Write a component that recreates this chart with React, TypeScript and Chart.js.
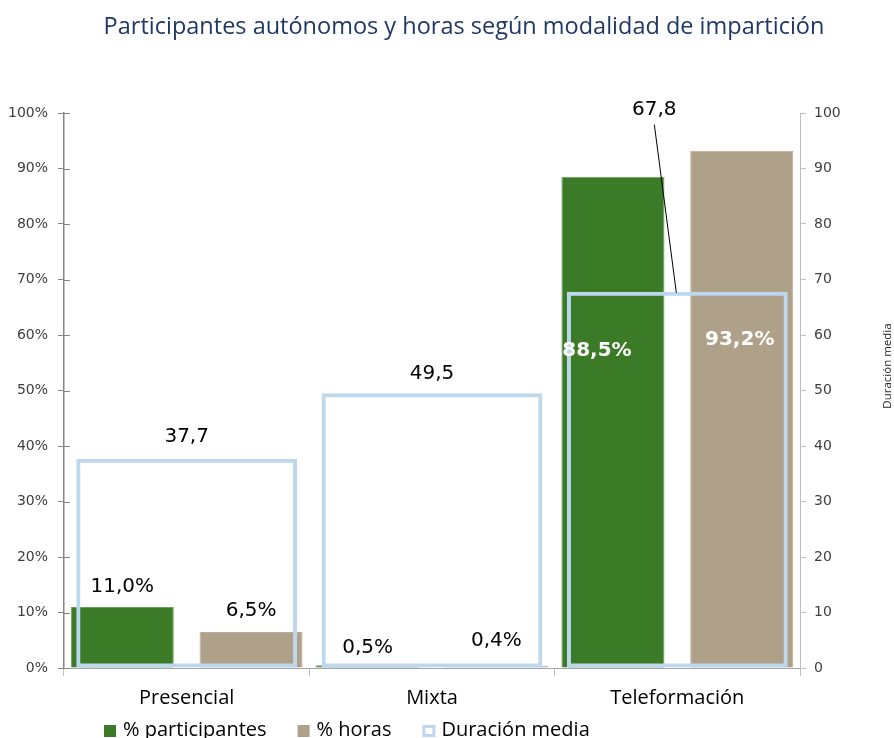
import React, { useEffect, useRef } from "react";
import { Chart, registerables } from "chart.js";

Chart.register(...registerables);

const chartTitle = "Participantes autónomos y horas según modalidad de impartición";
const rightAxisTitle = "Duración media";
const categories = ["Presencial", "Mixta", "Teleformación"];
const seriesNames = ["% participantes", "% horas", "Duración media"];
const participantes = [11.0, 0.5, 88.5];
const horas = [6.5, 0.4, 93.2];
const duracionMedia = [37.7, 49.5, 67.8];
const leftTickMax = 100;
const rightTickMax = 100;
const tickStep = 10;

const GREEN = "#3B7A26";
const TAN = "#AFA08A";
const BLUE = "#BDD7EE";

// label placement (px offsets from bar centre / top)
const pctLabelOffsets = [
  [{ dx: 0, dy: -20, inside: false }, { dx: 0, dy: -17, inside: false }, { dx: -16, dy: 174, inside: true }],
  [{ dx: 0, dy: -21, inside: false }, { dx: 0, dy: -25, inside: false }, { dx: -2, dy: 189, inside: true }],
];
const durLabelOffsets = [
  { dx: 0, dy: -22, leader: false },
  { dx: 0, dy: -19, leader: false },
  { dx: -23, dy: -182, leader: true },
];

const fmt = (v: number) => v.toFixed(1).replace(".", ",");

const decoPlugin = {
  id: "deco",
  afterDatasetsDraw(chart: any) {
    const ctx = chart.ctx as CanvasRenderingContext2D;
    ctx.save();
    [0, 1].forEach((di) => {
      const meta = chart.getDatasetMeta(di);
      meta.data.forEach((bar: any, i: number) => {
        const v = chart.data.datasets[di].data[i] as number;
        const o = pctLabelOffsets[di][i];
        ctx.font = o.inside ? 'bold 20px "DejaVu Sans"' : '20px "DejaVu Sans"';
        ctx.fillStyle = o.inside ? "#ffffff" : "#000000";
        ctx.textAlign = "center";
        ctx.textBaseline = "middle";
        ctx.fillText(fmt(v) + "%", bar.x + o.dx, bar.y + o.dy);
      });
    });
    const dmeta = chart.getDatasetMeta(2);
    dmeta.data.forEach((bar: any, i: number) => {
      const v = chart.data.datasets[2].data[i] as number;
      const o = durLabelOffsets[i];
      ctx.font = '20px "DejaVu Sans"';
      ctx.fillStyle = "#000000";
      ctx.textAlign = "center";
      ctx.textBaseline = "middle";
      const lx = bar.x + o.dx;
      const ly = bar.y + o.dy;
      ctx.fillText(fmt(v), lx, ly);
      if (o.leader) {
        ctx.strokeStyle = "#000000";
        ctx.lineWidth = 1;
        ctx.beginPath();
        ctx.moveTo(lx, ly + 15);
        ctx.lineTo(bar.x - 1, bar.y + 1);
        ctx.stroke();
      }
    });
    ctx.restore();
  },
  afterDraw(chart: any) {
    const ctx = chart.ctx as CanvasRenderingContext2D;
    const ca = chart.chartArea;
    ctx.save();
    const y = chart.scales.y;
    ctx.strokeStyle = "#868686";
    ctx.lineWidth = 1;
    y.ticks.forEach((t: any) => {
      const py = Math.round(y.getPixelForValue(t.value)) + 0.5;
      ctx.beginPath();
      ctx.moveTo(ca.left, py);
      ctx.lineTo(ca.left + 6, py);
      ctx.stroke();
    });
    // title
    ctx.font = '23.5px "Open Sans"';
    ctx.fillStyle = "#1F3864";
    ctx.textAlign = "center";
    ctx.textBaseline = "alphabetic";
    ctx.fillText(chartTitle, 464, 34);
    // right axis title
    ctx.save();
    ctx.translate(893, 366);
    ctx.rotate(-Math.PI / 2);
    ctx.font = '11.5px "Open Sans"';
    ctx.fillStyle = "#262626";
    ctx.textAlign = "center";
    ctx.textBaseline = "bottom";
    ctx.fillText(rightAxisTitle, 0, 0);
    ctx.restore();
    // legend
    ctx.font = '20px "Open Sans"';
    ctx.textAlign = "left";
    ctx.textBaseline = "alphabetic";
    let x = 104;
    const boxY = 725;
    chart.data.datasets.forEach((ds: any, i: number) => {
      if (i === 2) {
        ctx.fillStyle = "#ffffff";
        ctx.fillRect(x, boxY, 13, 12);
        ctx.strokeStyle = BLUE;
        ctx.lineWidth = 3;
        ctx.strokeRect(x + 1.5, boxY + 1.5, 10, 9);
      } else {
        ctx.fillStyle = ds.backgroundColor;
        ctx.fillRect(x, boxY, 12, 12);
      }
      ctx.fillStyle = "#000000";
      const tx = x + 19;
      ctx.fillText(ds.label, tx, 736);
      x = tx + ctx.measureText(ds.label).width + 31;
    });
    ctx.restore();
  },
};

export default function App() {
  const ref = useRef<HTMLCanvasElement | null>(null);
  useEffect(() => {
    if (!ref.current) return;
    const chart = new Chart(ref.current, {
      type: "bar",
      data: {
        labels: categories,
        datasets: [
          {
            label: seriesNames[0],
            data: participantes,
            backgroundColor: GREEN,
            borderColor: "#6E9A5C",
            borderWidth: 1,
            yAxisID: "y",
            order: 1,
            categoryPercentage: 1.05,
            barPercentage: 0.8,
          },
          {
            label: seriesNames[1],
            data: horas,
            backgroundColor: TAN,
            borderColor: "#BBAE9A",
            borderWidth: 1,
            yAxisID: "y",
            order: 1,
            categoryPercentage: 1.05,
            barPercentage: 0.8,
          },
          {
            label: seriesNames[2],
            data: duracionMedia,
            backgroundColor: "rgba(255,255,255,0)",
            borderColor: BLUE,
            borderWidth: 4,
            borderSkipped: false,
            grouped: false,
            yAxisID: "y1",
            order: 0,
            categoryPercentage: 1,
            barPercentage: 0.9,
          },
        ] as any,
      },
      options: {
        responsive: false,
        animation: false,
        events: [],
        layout: { padding: { top: 113, left: 0, right: 0, bottom: 0 } },
        plugins: {
          legend: { display: false },
          title: { display: false },
          tooltip: { enabled: false },
        },
        scales: {
          x: {
            type: "category",
            offset: true,
            grid: {
              offset: true,
              drawOnChartArea: false,
              tickLength: 8,
              color: "#BFBFBF",
            },
            border: { color: "#A6A6A6", width: 1 },
            ticks: {
              color: "#000000",
              font: { family: "Open Sans", size: 20 },
              padding: 10,
            },
            afterFit: (s: any) => {
              s.height = 70;
            },
          },
          y: {
            position: "left",
            min: 0,
            max: leftTickMax,
            ticks: {
              stepSize: tickStep,
              color: "#404040",
              font: { family: "DejaVu Sans", size: 14 },
              padding: 10,
              callback: (v: any) => v + "%",
            },
            grid: { drawOnChartArea: false, tickLength: 6, color: "#868686" },
            border: { color: "#868686", width: 1.5 },
            afterFit: (s: any) => {
              s.width = 64;
            },
          },
          y1: {
            position: "right",
            min: 0,
            max: rightTickMax,
            ticks: {
              stepSize: tickStep,
              color: "#404040",
              font: { family: "DejaVu Sans", size: 14 },
              padding: 8,
            },
            grid: { drawOnChartArea: false, tickLength: 6, color: "#BFBFBF" },
            border: { color: "#BFBFBF", width: 1 },
            afterFit: (s: any) => {
              s.width = 94;
            },
          },
        },
      } as any,
      plugins: [decoPlugin],
    });
    return () => chart.destroy();
  }, []);
  return (
    <div style={{ position: "absolute", left: 0, top: 0, width: 894, height: 738, background: "#fff" }}>
      <canvas ref={ref} width={894} height={738} style={{ display: "block" }} />
    </div>
  );
}
